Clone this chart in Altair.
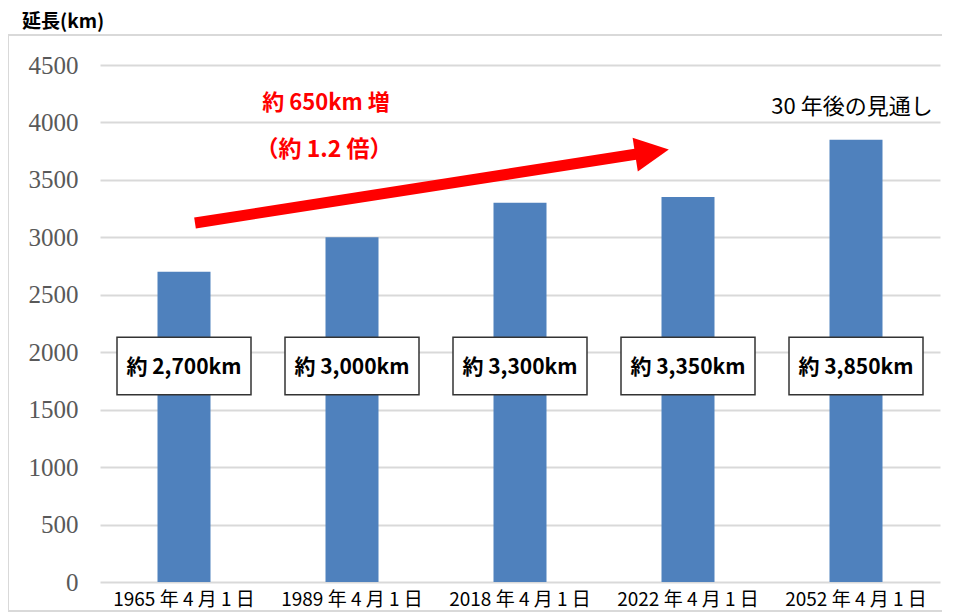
import altair as alt
import pandas as pd

categories = ["1965 年 4 月 1 日", "1989 年 4 月 1 日", "2018 年 4 月 1 日",
              "2022 年 4 月 1 日", "2052 年 4 月 1 日"]
values = [2700, 3000, 3300, 3350, 3850]
labels = ["約 2,700km", "約 3,000km", "約 3,300km", "約 3,350km", "約 3,850km"]
y_ticks = [0, 500, 1000, 1500, 2000, 2500, 3000, 3500, 4000, 4500]

df = pd.DataFrame({"cat": categories, "value": values, "label": labels})
one = pd.DataFrame({"k": [0]})

JP = "Noto Sans CJK JP"

xenc = alt.X("cat:N", sort=categories, title=None,
             scale=alt.Scale(paddingInner=0, paddingOuter=0),
             axis=alt.Axis(labelAngle=0, labelFont=JP, labelFontSize=19,
                           labelColor="#000000", labelPadding=8, ticks=False,
                           domain=False, grid=False))
yscale = alt.Scale(domain=[0, 4500], nice=False)

frame_top = alt.Chart(one).mark_rule(stroke="#D9D9D9", strokeWidth=2).encode(
    x=alt.value(-92), x2=alt.value(842), y=alt.value(-30))
frame_left = alt.Chart(one).mark_rule(stroke="#D9D9D9", strokeWidth=2).encode(
    x=alt.value(-92), y=alt.value(-30), y2=alt.value(546))
frame_bottom = alt.Chart(one).mark_rule(stroke="#D9D9D9", strokeWidth=2).encode(
    x=alt.value(-92), x2=alt.value(842), y=alt.value(546))

bars = alt.Chart(df).mark_bar(color="#4F81BD", size=53).encode(
    x=xenc,
    y=alt.Y("value:Q", scale=yscale, title=None,
            axis=alt.Axis(values=y_ticks, format="d", labelFont="Liberation Serif",
                          labelFontSize=25, labelColor="#595959", labelPadding=22,
                          ticks=False, domain=False, gridColor="#D9D9D9", gridWidth=2)))

boxes = alt.Chart(df).mark_bar(size=134, fill="white", stroke="#333333", strokeWidth=1.5).encode(
    x=alt.X("cat:N", sort=categories), y=alt.datum(1630), y2=alt.datum(2130))

box_text = alt.Chart(df).mark_text(font=JP, fontSize=21, fontWeight="bold", color="#000000").encode(
    x=alt.X("cat:N", sort=categories), y=alt.datum(1860), text="label:N")

arrow_line = alt.Chart(one).mark_rule(color="#FF0000", strokeWidth=11, strokeCap="butt").encode(
    x=alt.value(95), x2=alt.value(537), y=alt.value(158), y2=alt.value(89))

arrow_head = alt.Chart(one).mark_point(shape="M-1,-1 L1,0 L-1,1 Z", filled=True, opacity=1,
                                       color="#FF0000", size=1156, angle=351.2).encode(
    x=alt.value(552), y=alt.value(87))

red1 = alt.Chart(one).mark_text(text="約 650km 増", font=JP, fontSize=22, fontWeight="bold",
                                color="#FF0000").encode(x=alt.value(226), y=alt.value(38))
red2 = alt.Chart(one).mark_text(text="（約 1.2 倍）", font=JP, fontSize=23, fontWeight="bold",
                                color="#FF0000").encode(x=alt.value(224), y=alt.value(85))
note = alt.Chart(one).mark_text(text="30 年後の見通し", font=JP, fontSize=22,
                                color="#000000").encode(x=alt.value(752), y=alt.value(42))
title = alt.Chart(one).mark_text(text="延長(km)", font=JP, fontSize=19, fontWeight="bold",
                                 color="#000000", align="left").encode(
    x=alt.value(-78), y=alt.value(-43))

chart = alt.layer(frame_top, frame_left, frame_bottom, bars, boxes, box_text,
                  arrow_line, arrow_head, red1, red2, note, title).properties(
    width=840, height=517, autosize="none",
    padding={"left": 92, "top": 57, "right": 10, "bottom": 33},
    background="white",
).configure_view(stroke=None)

chart.save("out.html", embed_options={"renderer": "svg", "actions": False})
